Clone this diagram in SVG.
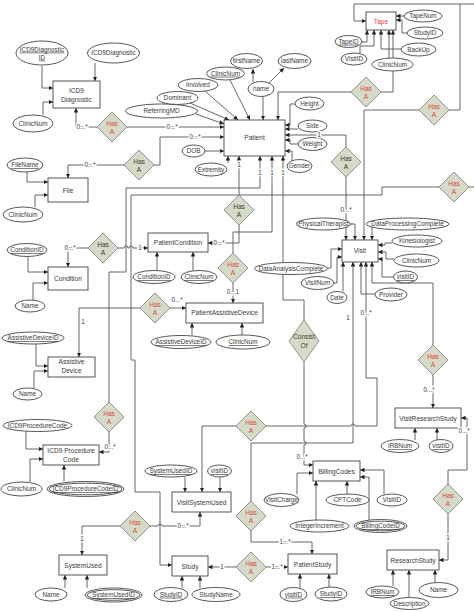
<svg xmlns="http://www.w3.org/2000/svg" width="474" height="612" viewBox="0 0 474 612">
<defs>
<marker id="ar" viewBox="0 0 6 6" refX="6" refY="3" markerWidth="5" markerHeight="5" orient="auto"><path d="M0,0L6,3L0,6z" fill="#222"/></marker>
<style>
.e rect{fill:#fff;stroke:#444;stroke-width:0.9}
.a ellipse{fill:#fff;stroke:#444;stroke-width:0.9}
.d polygon{fill:#d5dbc6;stroke:#888;stroke-width:0.9}
text{font-family:"Liberation Sans",Arial,sans-serif;font-size:6.4px;fill:#3a3a3a;text-anchor:middle}
.e text,.d text{font-size:6.6px}
.r{fill:#dd4444}
.u{text-decoration:underline}
#conn path{fill:none;stroke:#555;stroke-width:0.9}
#conn path.m{marker-end:url(#ar)}
.l{stroke:#fff;stroke-width:2.5px;paint-order:stroke;font-size:6.3px}
</style>
</defs>
<rect width="474" height="612" fill="#fff"/>
<g id="conn">
<path class="m" d="M474,4 H354 V21 H366"/>
<path d="M449,110 H460 V4"/>
<path class="m" d="M419,110 H364 V240"/>
<path class="m" d="M351,92 H278 V120"/>
<path class="m" d="M381,92 H393 V30"/>
<path class="m" d="M404,16 H396"/>
<path class="m" d="M407,33 H402 V20 H396"/>
<path class="m" d="M362,42 H367 V30"/>
<path class="m" d="M360,53 V46 H374 V30"/>
<path class="m" d="M401,49 H381 V30"/>
<path class="m" d="M389,58 V30"/>
<path class="m" d="M42,66 V88 H53"/>
<path class="m" d="M95,63 V81"/>
<path class="m" d="M43,115 V102 H53"/>
<path class="m" d="M97,127 H76 V108"/>
<path class="m" d="M127,127 H224"/>
<path class="m" d="M205,91 L238,120"/>
<path class="m" d="M190,103 L229,120"/>
<path class="m" d="M196,114 L224,124"/>
<path class="m" d="M230,80 L250,120"/>
<path class="m" d="M263,96 V120"/>
<path class="m" d="M253,82 V69"/>
<path class="m" d="M268,84 L284,68"/>
<path class="m" d="M295,104 H290 V125 H285"/>
<path class="m" d="M298,129 H285"/>
<path class="m" d="M298,144 H290 V140 H285"/>
<path class="m" d="M292,161 V151 H285"/>
<path class="m" d="M205,151 H224"/>
<path class="m" d="M228,163 V156"/>
<path class="m" d="M124,165 H68 V178"/>
<path class="m" d="M154,165 H160 V137 H224"/>
<path class="m" d="M27,172 V182 H48"/>
<path class="m" d="M35,207 V195 H48"/>
<path class="m" d="M88,248 H68 V267"/>
<path class="m" d="M118,248 H124 a2,2 0 0 1 4,0 H129 a2,2 0 0 1 4,0 H148"/>
<path class="m" d="M28,256.5 V272 H48"/>
<path class="m" d="M33,300 V283 H48"/>
<path class="m" d="M239,195 V156"/>
<path class="m" d="M239,225 V243 H208"/>
<path class="m" d="M109,402 V272 H126 V188 H260 V156"/>
<path class="m" d="M233,253 V232 H272 V156"/>
<path class="m" d="M304,320 V300 H283 V156"/>
<path class="m" d="M233,283 V303"/>
<path class="m" d="M157,270.5 V252"/>
<path class="m" d="M193,270.5 V252"/>
<path class="m" d="M140,308 H79 V357"/>
<path class="m" d="M170,308 H186"/>
<path class="m" d="M192,335.5 V323"/>
<path class="m" d="M242,335 V323"/>
<path class="m" d="M36,344 V366 H48"/>
<path class="m" d="M34,388 V371 H48"/>
<path class="m" d="M109,432 V452 H99"/>
<path class="m" d="M26,431 V449 H43"/>
<path class="m" d="M30,482 V459 H43"/>
<path class="m" d="M64,481.5 V465"/>
<path d="M469,187 H474"/>
<path class="m" d="M439,187 H382 V195 H131 V360 H135 V492 H160 V565 H172"/>
<path class="m" d="M346,147 V135 H285"/>
<path class="m" d="M346,177 V240"/>
<path class="m" d="M349,224 H355 V240"/>
<path class="m" d="M372,227 V240"/>
<path class="m" d="M392,243 H385 V245 H378"/>
<path class="m" d="M394,259 H386 V252 H378"/>
<path class="m" d="M394,277 H382 V259 H378"/>
<path class="m" d="M375,294 H361 V262"/>
<path class="m" d="M343,291.5 V262"/>
<path class="m" d="M327,268 H331 V249 H342"/>
<path class="m" d="M334,283 H337 V257 H342"/>
<path class="m" d="M304,362 V424 a2,2 0 0 1 0,4 V441 a2,2 0 0 1 0,4 V465 H313"/>
<path class="m" d="M236,426 H202 V492"/>
<path class="m" d="M266,426 H351 a2,2 0 0 1 4,0 H377 V378 H366 V262"/>
<path class="m" d="M185,477 V492"/>
<path class="m" d="M220,477 V492"/>
<path class="m" d="M433,345 V283 H372 V262"/>
<path class="m" d="M433,375 V408"/>
<path class="m" d="M415,440 V428"/>
<path class="m" d="M437,440 V428"/>
<path class="m" d="M120,526 H82 V555"/>
<path class="m" d="M150,526 H158 a2,2 0 0 1 4,0 H200 V512"/>
<path class="m" d="M65,588 V575"/>
<path class="m" d="M87,588 V575"/>
<path class="m" d="M251,501 V443 H353 V262"/>
<path class="m" d="M251,531 V542 H312 V554"/>
<path class="m" d="M236,567 H208"/>
<path class="m" d="M266,567 H288"/>
<path class="m" d="M182,588 V576"/>
<path class="m" d="M200,588 V576"/>
<path class="m" d="M300,588 V574"/>
<path class="m" d="M329,587 V574"/>
<path class="m" d="M448,484 V470 H467 V418 H461"/>
<path class="m" d="M448,514 V560 H439"/>
<path class="m" d="M393,586 V570"/>
<path class="m" d="M409,597.5 V570"/>
<path class="m" d="M435,583 V570"/>
<path class="m" d="M384,494 V470 H360"/>
<path class="m" d="M369,520 V477 H360"/>
<path class="m" d="M347,494 V481"/>
<path class="m" d="M316,520 V481"/>
<path class="m" d="M297,494 V473 H313"/>
</g>

<g id="tape" class="e"><rect x="366" y="12" width="30" height="18"/><text x="381" y="23.5" class="r">Tape</text></g>
<g id="icd9diagnostic" class="e"><rect x="53" y="81" width="47" height="27"/><text x="76.5" y="92.5">ICD9</text><text x="76.5" y="101.5">Diagnostic</text></g>
<g id="patient" class="e"><rect x="224" y="120" width="61" height="36"/><text x="254.5" y="139.5">Patient</text></g>
<g id="file" class="e"><rect x="48" y="178" width="40" height="24"/><text x="68" y="192.5">File</text></g>
<g id="condition" class="e"><rect x="48" y="267" width="40" height="23"/><text x="68" y="281">Condition</text></g>
<g id="patientcondition" class="e"><rect x="148" y="233" width="60" height="19"/><text x="178" y="245">PatientCondition</text></g>
<g id="patientassistivedevice" class="e"><rect x="186" y="303" width="77" height="20"/><text x="224.5" y="315">PatientAssistiveDevice</text></g>
<g id="assistivedevice" class="e"><rect x="48" y="357" width="47" height="20"/><text x="71.5" y="364">Assistive</text><text x="71.5" y="372.5">Device</text></g>
<g id="icd9procedurecode" class="e"><rect x="43" y="445" width="56" height="20"/><text x="71" y="453">ICD9 Procedure</text><text x="71" y="461.5">Code</text></g>
<g id="visit" class="e"><rect x="342" y="240" width="36" height="22"/><text x="360" y="253">Visit</text></g>
<g id="visitresearchstudy" class="e"><rect x="395" y="408" width="66" height="20"/><text x="428" y="420.5">VisitResearchStudy</text></g>
<g id="billingcodes" class="e"><rect x="313" y="461" width="47" height="20"/><text x="336.5" y="473.5">BillingCodes</text></g>
<g id="visitsystemused" class="e"><rect x="172" y="492" width="59" height="20"/><text x="201.5" y="504.5">VisitSystemUsed</text></g>
<g id="systemused" class="e"><rect x="59" y="555" width="48" height="20"/><text x="83" y="567.5">SystemUsed</text></g>
<g id="study" class="e"><rect x="172" y="556" width="36" height="20"/><text x="190" y="568.5">Study</text></g>
<g id="patientstudy" class="e"><rect x="288" y="554" width="49" height="20"/><text x="312.5" y="566.5">PatientStudy</text></g>
<g id="researchstudy" class="e"><rect x="387" y="550" width="52" height="20"/><text x="413" y="562.5">ResearchStudy</text></g>

<g id="rel-icd9dx" class="d"><polygon points="112,112 127,127 112,142 97,127"/><text x="112" y="125.5" class="r">Has</text><text x="112" y="133.5" class="r">A</text></g>
<g id="rel-file" class="d"><polygon points="139,150 154,165 139,180 124,165"/><text x="139" y="163.5">Has</text><text x="139" y="171.5">A</text></g>
<g id="rel-condition" class="d"><polygon points="103,233 118,248 103,263 88,248"/><text x="103" y="246.5">Has</text><text x="103" y="254.5">A</text></g>
<g id="rel-patientcondition" class="d"><polygon points="239,195 254,210 239,225 224,210"/><text x="239" y="208.5">Has</text><text x="239" y="216.5">A</text></g>
<g id="rel-pad" class="d"><polygon points="233,253 248,268 233,283 218,268"/><text x="233" y="266.5" class="r">Has</text><text x="233" y="274.5" class="r">A</text></g>
<g id="rel-tape" class="d"><polygon points="366,77 381,92 366,107 351,92"/><text x="366" y="90.5" class="r">Has</text><text x="366" y="98.5" class="r">A</text></g>
<g id="rel-tapevisit" class="d"><polygon points="434,95 449,110 434,125 419,110"/><text x="434" y="108.5" class="r">Has</text><text x="434" y="116.5" class="r">A</text></g>
<g id="rel-visit" class="d"><polygon points="346,147 361,162 346,177 331,162"/><text x="346" y="160.5">Has</text><text x="346" y="168.5">A</text></g>
<g id="rel-study" class="d"><polygon points="454,172 469,187 454,202 439,187"/><text x="454" y="185.5" class="r">Has</text><text x="454" y="193.5" class="r">A</text></g>
<g id="rel-ad" class="d"><polygon points="155,293 170,308 155,323 140,308"/><text x="155" y="306.5" class="r">Has</text><text x="155" y="314.5" class="r">A</text></g>
<g id="rel-icd9proc" class="d"><polygon points="109,402 124,417 109,432 94,417"/><text x="109" y="415.5" class="r">Has</text><text x="109" y="423.5" class="r">A</text></g>
<g id="rel-consistof" class="d"><polygon points="304,320 319,341 304,362 289,341"/><text x="304" y="339">Consist</text><text x="304" y="347.5">Of</text></g>
<g id="rel-vsu" class="d"><polygon points="251,411 266,426 251,441 236,426"/><text x="251" y="424.5" class="r">Has</text><text x="251" y="432.5" class="r">A</text></g>
<g id="rel-vrs" class="d"><polygon points="433,345 448,360 433,375 418,360"/><text x="433" y="358.5" class="r">Has</text><text x="433" y="366.5" class="r">A</text></g>
<g id="rel-systemused" class="d"><polygon points="135,511 150,526 135,541 120,526"/><text x="135" y="524.5" class="r">Has</text><text x="135" y="532.5" class="r">A</text></g>
<g id="rel-patientstudy" class="d"><polygon points="251,501 266,516 251,531 236,516"/><text x="251" y="514.5" class="r">Has</text><text x="251" y="522.5" class="r">A</text></g>
<g id="rel-studyps" class="d"><polygon points="251,552 266,567 251,582 236,567"/><text x="251" y="565.5" class="r">Has</text><text x="251" y="573.5" class="r">A</text></g>
<g id="rel-researchstudy" class="d"><polygon points="448,484 463,499 448,514 433,499"/><text x="448" y="497.5" class="r">Has</text><text x="448" y="505.5" class="r">A</text></g>

<g class="a">
<g id="at-icd9dxid"><ellipse cx="42" cy="53" rx="26" ry="12"/><text x="42" y="51.6" class="u">ICD9Diagnostic</text><text x="42" y="59.6" class="u">ID</text></g>
<g id="at-icd9dx"><ellipse cx="113.5" cy="53" rx="26" ry="10"/><text x="113.5" y="55.2">ICD9Diagnostic</text></g>
<g id="at-icd9dx-clinic"><ellipse cx="33" cy="123.5" rx="20" ry="8.5"/><text x="33" y="125.7">ClinicNum</text></g>
<g id="at-referringmd"><ellipse cx="161.5" cy="111" rx="36" ry="7"/><text x="161.5" y="113.2">ReferringMD</text></g>
<g id="at-dominant"><ellipse cx="177.5" cy="98" rx="20.5" ry="6.5"/><text x="177.5" y="100.2">Dominant</text></g>
<g id="at-involved"><ellipse cx="198" cy="85" rx="20" ry="6.5"/><text x="198" y="87.2">Involved</text></g>
<g id="at-p-clinic"><ellipse cx="225.5" cy="73.5" rx="19" ry="6.5"/><text x="225.5" y="75.7" class="u">ClinicNum</text></g>
<g id="at-firstname"><ellipse cx="246.5" cy="61" rx="16" ry="7.5"/><text x="246.5" y="63.2">firstName</text></g>
<g id="at-lastname"><ellipse cx="294.5" cy="61" rx="16.5" ry="7.5"/><text x="294.5" y="63.2">lastName</text></g>
<g id="at-name"><ellipse cx="261" cy="89" rx="13" ry="7.5"/><text x="261" y="91.2">name</text></g>
<g id="at-height"><ellipse cx="309.5" cy="103.5" rx="14.5" ry="6.5"/><text x="309.5" y="105.7">Height</text></g>
<g id="at-side"><ellipse cx="312.5" cy="126" rx="14.5" ry="6"/><text x="312.5" y="128.2">Side</text></g>
<g id="at-weight"><ellipse cx="312.5" cy="144" rx="14.5" ry="6.5"/><text x="312.5" y="146.2">Weight</text></g>
<g id="at-gender"><ellipse cx="299.5" cy="166" rx="12.5" ry="6.5"/><text x="299.5" y="168.2">Gender</text></g>
<g id="at-dob"><ellipse cx="193.5" cy="151" rx="11.5" ry="6"/><text x="193.5" y="153.2">DOB</text></g>
<g id="at-extremity"><ellipse cx="211" cy="169.5" rx="16" ry="6.5"/><text x="211" y="171.7">Extremity</text></g>
<g id="at-filename"><ellipse cx="25" cy="165" rx="18" ry="7"/><text x="25" y="167.2" class="u">FileName</text></g>
<g id="at-f-clinic"><ellipse cx="23" cy="214.5" rx="20" ry="7.5"/><text x="23" y="216.7">ClinicNum</text></g>
<g id="at-conditionid"><ellipse cx="27" cy="250" rx="20" ry="6.5"/><text x="27" y="252.2" class="u">ConditionID</text></g>
<g id="at-c-name"><ellipse cx="30" cy="306" rx="15" ry="6"/><text x="30" y="308.2">Name</text></g>
<g id="at-pc-conditionid"><ellipse cx="154" cy="277" rx="21" ry="6.5"/><text x="154" y="279.2" class="u">ConditionID</text></g>
<g id="at-pc-clinic"><ellipse cx="199" cy="277" rx="18" ry="6.5"/><text x="199" y="279.2" class="u">ClinicNum</text></g>
<g id="at-pad-adid"><ellipse cx="181" cy="342" rx="30" ry="6.5"/><text x="181" y="344.2" class="u">AssistiveDeviceID</text></g>
<g id="at-pad-clinic"><ellipse cx="243" cy="342" rx="27" ry="7"/><text x="243" y="344.2" class="u">ClinicNum</text></g>
<g id="at-adid"><ellipse cx="33" cy="338" rx="31" ry="6"/><text x="33" y="340.2" class="u">AssistiveDeviceID</text></g>
<g id="at-ad-name"><ellipse cx="27.5" cy="394" rx="14.5" ry="6"/><text x="27.5" y="396.2">Name</text></g>
<g id="at-icd9pc"><ellipse cx="37.5" cy="425.5" rx="34.5" ry="6"/><text x="37.5" y="427.7">ICD9ProcedureCode</text></g>
<g id="at-ip-clinic"><ellipse cx="21.5" cy="489" rx="20.5" ry="7"/><text x="21.5" y="491.2">ClinicNum</text></g>
<g id="at-icd9pcid"><ellipse cx="85.5" cy="489" rx="38.5" ry="7.5"/><ellipse cx="85.5" cy="489" rx="36.5" ry="5.8"/><text x="85.5" y="491.2" class="u">ICD9ProcedureCodeID</text></g>
<g id="at-physicaltherapist"><ellipse cx="323.5" cy="224" rx="27" ry="6"/><text x="323.5" y="226.2">PhysicalTherapist</text></g>
<g id="at-dpc"><ellipse cx="407.5" cy="224" rx="41.5" ry="6"/><text x="407.5" y="226.2">DataProcessingComplete</text></g>
<g id="at-kinesiologist"><ellipse cx="417" cy="241" rx="25" ry="6"/><text x="417" y="243.2">Kinesiologist</text></g>
<g id="at-v-clinic"><ellipse cx="416.5" cy="260.5" rx="22.5" ry="6.5"/><text x="416.5" y="262.7">ClinicNum</text></g>
<g id="at-v-visitid"><ellipse cx="405.5" cy="277" rx="12" ry="6"/><text x="405.5" y="279.2" class="u">visitID</text></g>
<g id="at-provider"><ellipse cx="391" cy="294.5" rx="16" ry="6.5"/><text x="391" y="296.7">Provider</text></g>
<g id="at-date"><ellipse cx="337" cy="297.5" rx="10" ry="6"/><text x="337" y="299.7">Date</text></g>
<g id="at-visitnum"><ellipse cx="317.5" cy="283" rx="16.5" ry="6.5"/><text x="317.5" y="285.2">VisitNum</text></g>
<g id="at-dac"><ellipse cx="291" cy="268.5" rx="36.5" ry="6"/><text x="291" y="270.7">DataAnalysisComplete</text></g>
<g id="at-vrs-irb"><ellipse cx="400" cy="446" rx="19" ry="6.5"/><text x="400" y="448.2" class="u">IRBNum</text></g>
<g id="at-vrs-visitid"><ellipse cx="441" cy="446" rx="12" ry="6.5"/><text x="441" y="448.2" class="u">visitID</text></g>
<g id="at-vsu-suid"><ellipse cx="171" cy="471" rx="26" ry="6"/><text x="171" y="473.2" class="u">SystemUsedID</text></g>
<g id="at-vsu-visitid"><ellipse cx="219.5" cy="471" rx="12" ry="6"/><text x="219.5" y="473.2" class="u">visitID</text></g>
<g id="at-visitcharge"><ellipse cx="281.5" cy="500" rx="17.5" ry="6.5"/><text x="281.5" y="502.2">VisitCharge</text></g>
<g id="at-cptcode"><ellipse cx="347.5" cy="500" rx="21.5" ry="6"/><text x="347.5" y="502.2">CPTCode</text></g>
<g id="at-b-visitid"><ellipse cx="392" cy="500" rx="15" ry="6"/><text x="392" y="502.2">VisitID</text></g>
<g id="at-intinc"><ellipse cx="319.5" cy="526" rx="29.5" ry="6"/><text x="319.5" y="528.2">IntegerIncrement</text></g>
<g id="at-billingcodeid"><ellipse cx="380.5" cy="526" rx="26.5" ry="6.5"/><ellipse cx="380.5" cy="526" rx="24.5" ry="4.8"/><text x="380.5" y="528.2" class="u">BillingCodeID</text></g>
<g id="at-su-name"><ellipse cx="51" cy="594.5" rx="16" ry="6.5"/><text x="51" y="596.7">Name</text></g>
<g id="at-su-suid"><ellipse cx="113.5" cy="595" rx="28.5" ry="7"/><ellipse cx="113.5" cy="595" rx="26.5" ry="5.3"/><text x="113.5" y="597.2" class="u">SystemUsedID</text></g>
<g id="at-s-studyid"><ellipse cx="171" cy="594.5" rx="17" ry="7"/><text x="171" y="596.7" class="u">StudyID</text></g>
<g id="at-studyname"><ellipse cx="216" cy="594.5" rx="24" ry="7"/><text x="216" y="596.7">StudyName</text></g>
<g id="at-ps-visitid"><ellipse cx="293.5" cy="594.5" rx="13.5" ry="7"/><text x="293.5" y="596.7" class="u">visitID</text></g>
<g id="at-ps-studyid"><ellipse cx="331" cy="594" rx="16" ry="7"/><text x="331" y="596.2" class="u">StudyID</text></g>
<g id="at-rs-irb"><ellipse cx="382.5" cy="592" rx="16.5" ry="6"/><text x="382.5" y="594.2" class="u">IRBNum</text></g>
<g id="at-description"><ellipse cx="409.5" cy="603.5" rx="19.5" ry="6"/><text x="409.5" y="605.7">Description</text></g>
<g id="at-rs-name"><ellipse cx="438.5" cy="590" rx="19.5" ry="7.5"/><text x="438.5" y="592.2">Name</text></g>
<g id="at-tapenum"><ellipse cx="423" cy="16" rx="19" ry="6"/><text x="423" y="18.2">TapeNum</text></g>
<g id="at-t-studyid"><ellipse cx="425" cy="33" rx="18" ry="6"/><text x="425" y="35.2">StudyID</text></g>
<g id="at-tapeid"><ellipse cx="348.5" cy="41.5" rx="13.5" ry="6"/><text x="348.5" y="43.7" class="u">TapeID</text></g>
<g id="at-backup"><ellipse cx="418.5" cy="49.5" rx="17.5" ry="6.5"/><text x="418.5" y="51.7">BackUp</text></g>
<g id="at-t-visitid"><ellipse cx="354" cy="59" rx="13" ry="6"/><text x="354" y="61.2">VisitID</text></g>
<g id="at-t-clinic"><ellipse cx="392.5" cy="64.5" rx="20.5" ry="6.5"/><text x="392.5" y="66.7">ClinicNum</text></g>
</g>

<g id="labels">
<text class="l" x="82" y="129">0...*</text>
<text class="l" x="172" y="129">0...*</text>
<text class="l" x="90" y="167">0...*</text>
<text class="l" x="195" y="139">0...*</text>
<text class="l" x="70" y="250">0...*</text>
<text class="l" x="140" y="250">1</text>
<text class="l" x="239" y="167">1</text>
<text class="l" x="260" y="175">1</text>
<text class="l" x="272" y="175">1</text>
<text class="l" x="283" y="175">1</text>
<text class="l" x="219" y="245">0...*</text>
<text class="l" x="233" y="294">0...1</text>
<text class="l" x="83" y="324">1</text>
<text class="l" x="177" y="302">0...*</text>
<text class="l" x="110" y="449">0...*</text>
<text class="l" x="319" y="137">1</text>
<text class="l" x="346" y="212">0...*</text>
<text class="l" x="302" y="459">0...*</text>
<text class="l" x="366" y="315">0...*</text>
<text class="l" x="348" y="320">1</text>
<text class="l" x="429" y="392">0...*</text>
<text class="l" x="464" y="433">0...*</text>
<text class="l" x="448" y="540">1</text>
<text class="l" x="82" y="541">1</text>
<text class="l" x="183" y="528">0...*</text>
<text class="l" x="285" y="544">1...*</text>
<text class="l" x="222" y="569">1</text>
<text class="l" x="277" y="569">1...*</text>
</g>
</svg>
